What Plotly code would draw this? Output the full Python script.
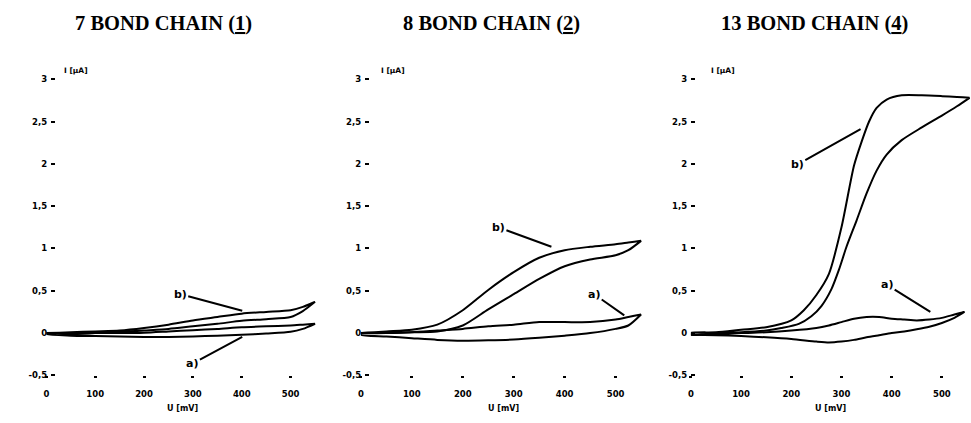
import plotly.graph_objects as go

# ---------------- data ----------------
# Panel 1 : 7 bond chain (1)
p1_u = [0, 50, 100, 150, 200, 250, 300, 350, 400, 450, 500, 525, 550]
p1_b_fwd = [0.0, 0.01, 0.02, 0.03, 0.06, 0.10, 0.15, 0.19, 0.23, 0.25, 0.27, 0.31, 0.37]
p1_b_rev = [0.0, -0.01, 0.0, 0.01, 0.03, 0.05, 0.08, 0.11, 0.145, 0.165, 0.19, 0.26, 0.37]
p1_a_fwd = [0.0, -0.005, 0.0, 0.0, 0.005, 0.02, 0.035, 0.05, 0.07, 0.08, 0.09, 0.10, 0.11]
p1_a_rev = [-0.01, -0.03, -0.035, -0.04, -0.045, -0.045, -0.04, -0.03, -0.02, -0.005, 0.015, 0.05, 0.11]

# Panel 2 : 8 bond chain (2)
p2_u = [0, 50, 100, 150, 200, 250, 300, 350, 400, 450, 500, 525, 550]
p2_b_fwd = [0.0, 0.02, 0.04, 0.10, 0.27, 0.51, 0.72, 0.89, 0.98, 1.02, 1.05, 1.07, 1.09]
p2_b_rev = [0.0, 0.0, 0.01, 0.02, 0.09, 0.28, 0.46, 0.64, 0.79, 0.87, 0.92, 0.98, 1.09]
p2_a_fwd = [0.0, 0.0, 0.01, 0.03, 0.05, 0.08, 0.10, 0.13, 0.13, 0.13, 0.16, 0.19, 0.22]
p2_a_rev = [-0.02, -0.04, -0.06, -0.08, -0.09, -0.085, -0.075, -0.055, -0.03, 0.0, 0.05, 0.09, 0.22]

# Panel 3 : 13 bond chain (4)
p3_b_fwd_u = [0, 50, 100, 150, 200, 225, 250, 275, 300, 325, 340, 355, 370, 390, 420, 460, 500, 530, 555]
p3_b_fwd_i = [0.0, 0.01, 0.04, 0.07, 0.15, 0.27, 0.45, 0.70, 1.25, 1.98, 2.26, 2.50, 2.66, 2.76, 2.81, 2.81, 2.80, 2.79, 2.78]
p3_b_rev_u = [0, 50, 100, 150, 180, 215, 240, 260, 280, 295, 310, 330, 350, 370, 390, 420, 460, 500, 530, 555]
p3_b_rev_i = [-0.02, 0.0, 0.01, 0.03, 0.06, 0.11, 0.20, 0.32, 0.52, 0.75, 1.02, 1.33, 1.65, 1.92, 2.11, 2.28, 2.43, 2.57, 2.68, 2.78]
p3_a_u = [0, 50, 100, 150, 200, 250, 275, 300, 325, 350, 375, 400, 425, 450, 475, 500, 525, 545]
p3_a_fwd = [-0.02, -0.01, 0.0, 0.01, 0.03, 0.06, 0.09, 0.13, 0.17, 0.19, 0.19, 0.17, 0.16, 0.15, 0.16, 0.18, 0.22, 0.25]
p3_a_rev = [-0.02, -0.025, -0.035, -0.05, -0.07, -0.10, -0.11, -0.10, -0.08, -0.05, -0.025, 0.0, 0.02, 0.045, 0.075, 0.12, 0.18, 0.25]

titles = ["7 BOND CHAIN (<u>1</u>)", "8 BOND CHAIN (<u>2</u>)", "13 BOND CHAIN (<u>4</u>)"]
y_ticks = [-0.5, 0, 0.5, 1, 1.5, 2, 2.5, 3]
y_ticktext = ["-0,5", "0", "0,5", "1", "1,5", "2", "2,5", "3"]
x_ticks = [0, 100, 200, 300, 400, 500]
x_ticktext = ["0", "100", "200", "300", "400", "500"]

# ---------------- figure ----------------
W, H = 971, 423
fig = go.Figure()


def loop(fu, fi, ru, ri):
    xs = list(fu) + list(ru)[::-1] + [fu[0]]
    ys = list(fi) + list(ri)[::-1] + [fi[0]]
    return xs, ys


loops = [
    (1, loop(p1_u, p1_b_fwd, p1_u, p1_b_rev)),
    (1, loop(p1_u, p1_a_fwd, p1_u, p1_a_rev)),
    (2, loop(p2_u, p2_b_fwd, p2_u, p2_b_rev)),
    (2, loop(p2_u, p2_a_fwd, p2_u, p2_a_rev)),
    (3, loop(p3_b_fwd_u, p3_b_fwd_i, p3_b_rev_u, p3_b_rev_i)),
    (3, loop(p3_a_u, p3_a_fwd, p3_a_u, p3_a_rev)),
]
for k, (xs, ys) in loops:
    sfx = "" if k == 1 else str(k)
    fig.add_trace(go.Scatter(x=xs, y=ys, mode="lines", xaxis="x" + sfx, yaxis="y" + sfx,
                             line=dict(color="black", width=2, shape="spline", smoothing=0.7),
                             hoverinfo="skip", showlegend=False))

# pixel layout of the three panels: (x0 px, px per mV, xmax, y-axis position px)
geo = [(43.5, 0.49, 565, 52), (359, 0.511, 565, 367), (690, 0.5036, 558, 694)]
ydom = [(H - 379.4) / H, (H - 76) / H]
tickfont = dict(family="DejaVu Sans", size=8.5, color="black", weight="bold")

layout = dict(width=W, height=H, margin=dict(l=0, r=0, t=0, b=0),
              paper_bgcolor="white", plot_bgcolor="white", showlegend=False)
for i, (x0, s, xmax, ypos) in enumerate(geo):
    sfx = "" if i == 0 else str(i + 1)
    layout["xaxis" + sfx] = dict(domain=[x0 / W, min(1.0, (x0 + s * xmax) / W)], range=[0, xmax],
                                 anchor="y" + sfx, showline=False, showgrid=False, zeroline=False,
                                 tickvals=x_ticks, ticktext=x_ticktext, ticks="outside",
                                 ticklen=2, tickwidth=2.5, tickcolor="black",
                                 ticklabelstandoff=8, tickfont=tickfont)
    layout["yaxis" + sfx] = dict(domain=ydom, range=[-0.5, 3.0], anchor="free", position=ypos / W,
                                 showline=False, showgrid=False, zeroline=False,
                                 tickvals=y_ticks, ticktext=y_ticktext, ticks="outside",
                                 ticklen=4, tickwidth=1.5, tickcolor="black",
                                 ticklabelstandoff=2, tickfont=tickfont)
fig.update_layout(**layout)

ann = []
title_cx = [161, 490, 814]
ylab_x = [59, 377, 708]
xlab_cx = [180, 502, 830]
for i in range(3):
    ann.append(dict(text=titles[i], x=title_cx[i] / W, y=1 - 19 / H, xref="paper", yref="paper",
                    xanchor="center", yanchor="middle", showarrow=False,
                    font=dict(family="Liberation Serif", size=20.5, color="black", weight="bold")))
    ann.append(dict(text="I [µA]", x=ylab_x[i] / W, y=1 - 67 / H, xref="paper", yref="paper",
                    xanchor="left", yanchor="middle", showarrow=False,
                    font=dict(family="DejaVu Sans", size=7.5, color="black", weight="bold")))
    ann.append(dict(text="U [mV]", x=xlab_cx[i] / W, y=1 - 413 / H, xref="paper", yref="paper",
                    xanchor="center", yanchor="middle", showarrow=False,
                    font=dict(family="DejaVu Sans", size=8, color="black", weight="bold")))

# curve labels with leader lines (text position -> pointed location, in data units)
labels = [
    ("", "b)", 274, 0.46, 401, 0.265),
    ("", "a)", 299, -0.36, 401, -0.045),
    ("2", "b)", 270, 1.25, 374, 1.02),
    ("2", "a)", 458, 0.46, 517, 0.21),
    ("3", "b)", 212, 1.99, 338, 2.41),
    ("3", "a)", 391, 0.57, 477, 0.25),
]
for sfx, t, tx, ty, hx, hy in labels:
    ann.append(dict(text=t, x=hx, y=hy, ax=tx, ay=ty, xref="x" + sfx, yref="y" + sfx,
                    axref="x" + sfx, ayref="y" + sfx, showarrow=True, arrowhead=0,
                    arrowwidth=2, arrowcolor="black", standoff=0, borderpad=1,
                    font=dict(family="DejaVu Sans", size=11, color="black", weight="bold")))
fig.update_layout(annotations=ann)

fig.write_html("out.html", config={"displayModeBar": False},
               post_script="document.body.style.margin='0';document.body.style.overflow='hidden';")
